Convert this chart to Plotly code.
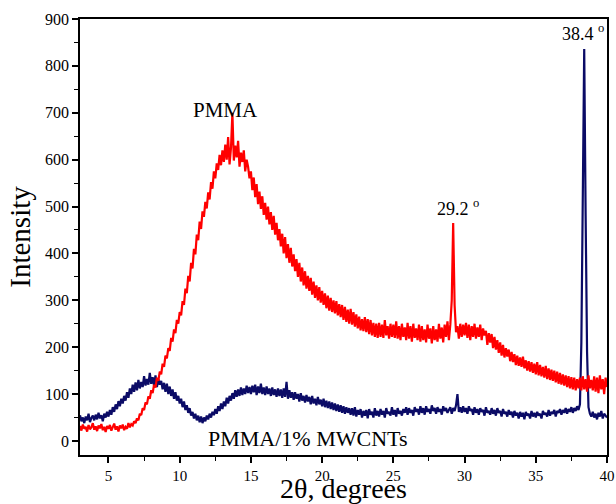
import numpy as np
import plotly.graph_objects as go

# 2-theta sampling grid: 3.0 .. 40.0 degrees, 0.1 degree step
X_START = 3.0
X_STEP = 0.1

pmma = [
    32, 22, 35, 26, 30, 20, 34, 25, 29, 38,          # 3.x
    24, 31, 21, 33, 27, 36, 23, 30, 19, 32,          # 4.x
    26, 34, 22, 29, 37, 24, 31, 20, 33, 27,          # 5.x
    35, 23, 30, 26, 38, 29, 36, 33, 42, 38,          # 6.x
    48, 44, 58, 55, 70, 66, 82, 78, 95, 90,          # 7.x
    108, 102, 120, 114, 135, 128, 148, 142, 165, 158,  # 8.x
    182, 176, 198, 192, 220, 212, 238, 230, 258, 250,  # 9.x
    275, 268, 298, 290, 325, 315, 352, 340, 380, 368,  # 10.x
    410, 398, 440, 428, 468, 452, 490, 478, 510, 496,  # 11.x
    530, 515, 552, 538, 575, 560, 592, 578, 610, 588,  # 12.x
    620, 595, 632, 600, 648, 590, 625, 700, 598, 630,  # 13.x
    605, 640, 585, 615, 595, 620, 575, 600, 585, 560,  # 14.x
    575, 535, 562, 520, 548, 505, 532, 495, 522, 482,  # 15.x
    508, 472, 500, 462, 488, 450, 480, 440, 465, 428,  # 16.x
    452, 415, 442, 400, 435, 390, 420, 380, 412, 372,  # 17.x
    398, 362, 388, 350, 380, 340, 370, 332, 362, 325,  # 18.x
    352, 320, 348, 312, 340, 305, 332, 300, 328, 295,  # 19.x
    320, 290, 315, 283, 310, 278, 305, 275, 300, 272,  # 20.x
    298, 268, 292, 264, 290, 258, 286, 254, 280, 250,  # 21.x
    282, 248, 275, 244, 270, 240, 265, 236, 260, 234,  # 22.x
    264, 232, 260, 228, 258, 225, 252, 222, 250, 220,  # 23.x
    252, 222, 248, 220, 258, 225, 245, 218, 250, 222,  # 24.x
    248, 220, 255, 218, 245, 215, 250, 222, 242, 215,  # 25.x
    252, 218, 245, 212, 250, 220, 240, 215, 248, 212,  # 26.x
    245, 215, 238, 210, 248, 218, 240, 208, 245, 215,  # 27.x
    238, 212, 250, 218, 242, 210, 248, 222, 255, 215,  # 28.x
    248, 300, 465, 290, 232, 245, 218, 250, 222, 248,  # 29.x
    225, 252, 220, 248, 215, 245, 222, 250, 218, 242,  # 30.x
    222, 248, 215, 240, 225, 235, 205, 230, 210, 228,  # 31.x
    198, 222, 195, 215, 188, 210, 182, 205, 178, 198,  # 32.x
    180, 195, 170, 190, 168, 185, 162, 182, 160, 178,  # 33.x
    158, 180, 155, 172, 150, 170, 148, 168, 145, 165,  # 34.x
    142, 168, 140, 162, 138, 158, 135, 160, 132, 155,  # 35.x
    130, 152, 128, 150, 125, 148, 122, 145, 120, 142,  # 36.x
    118, 140, 115, 138, 112, 136, 110, 135, 108, 132,  # 37.x
    112, 135, 108, 138, 110, 132, 105, 140, 112, 130,  # 38.x
    108, 138, 105, 135, 102, 140, 110, 132, 100, 135,  # 39.x
    115,                                             # 40.0
]

pmma_mwcnt = [
    55, 42, 50, 38, 52, 44, 58, 40, 49, 54,          # 3.x
    44, 56, 46, 60, 48, 55, 42, 58, 50, 62,          # 4.x
    52, 66, 56, 72, 62, 78, 68, 85, 74, 90,          # 5.x
    80, 96, 86, 104, 92, 112, 100, 120, 105, 125,    # 6.x
    108, 130, 112, 126, 115, 138, 118, 132, 120, 145,  # 7.x
    122, 136, 118, 140, 115, 132, 120, 128, 110, 124,  # 8.x
    105, 122, 100, 116, 96, 110, 90, 104, 86, 96,    # 9.x
    80, 90, 72, 84, 66, 76, 60, 70, 54, 62,          # 10.x
    48, 58, 44, 54, 40, 52, 38, 50, 42, 54,          # 11.x
    46, 58, 50, 62, 55, 68, 58, 74, 64, 80,          # 12.x
    68, 84, 74, 92, 80, 96, 86, 102, 90, 108,        # 13.x
    94, 110, 96, 114, 98, 112, 100, 118, 102, 115,   # 14.x
    100, 118, 104, 120, 98, 116, 102, 122, 100, 114,  # 15.x
    98, 116, 100, 112, 96, 114, 98, 110, 94, 112,    # 16.x
    96, 110, 92, 112, 94, 126, 90, 108, 92, 104,     # 17.x
    88, 104, 90, 100, 84, 102, 86, 96, 82, 98,       # 18.x
    84, 94, 78, 96, 80, 90, 76, 94, 78, 88,          # 19.x
    74, 90, 72, 86, 70, 84, 68, 82, 66, 80,          # 20.x
    64, 78, 62, 76, 60, 74, 58, 72, 60, 70,          # 21.x
    56, 70, 54, 72, 52, 66, 56, 68, 50, 64,          # 22.x
    54, 66, 48, 68, 56, 62, 50, 70, 54, 64,          # 23.x
    52, 68, 56, 64, 50, 70, 58, 62, 54, 72,          # 24.x
    56, 66, 52, 70, 58, 64, 54, 68, 60, 72,          # 25.x
    56, 70, 60, 66, 54, 72, 62, 68, 56, 74,          # 26.x
    60, 70, 56, 74, 62, 68, 58, 76, 64, 70,          # 27.x
    58, 72, 62, 68, 56, 74, 64, 70, 60, 66,          # 28.x
    72, 58, 70, 64, 76, 100, 62, 72, 60, 74,         # 29.x
    62, 70, 58, 74, 64, 68, 56, 72, 60, 68,          # 30.x
    56, 70, 62, 66, 54, 72, 60, 64, 56, 70,          # 31.x
    58, 66, 54, 70, 60, 64, 52, 68, 58, 62,          # 32.x
    52, 66, 56, 62, 50, 64, 54, 60, 48, 62,          # 33.x
    52, 60, 46, 62, 54, 58, 48, 64, 52, 60,          # 34.x
    50, 62, 54, 58, 48, 64, 56, 60, 52, 66,          # 35.x
    54, 62, 58, 66, 52, 64, 60, 68, 56, 66,          # 36.x
    60, 70, 58, 68, 62, 72, 60, 70, 64, 74,          # 37.x
    66, 78, 210, 520, 836, 480, 190, 72, 58, 52,     # 38.x
    62, 50, 58, 46, 60, 52, 64, 48, 58, 54,          # 39.x
    50,                                              # 40.0
]

x = np.round(X_START + X_STEP * np.arange(len(pmma)), 2)

FONT = "Liberation Serif"

fig = go.Figure()
fig.add_trace(go.Scatter(x=x, y=pmma_mwcnt, mode="lines",
                         line=dict(color="#0b0b66", width=2.2),
                         name="PMMA/1% MWCNTs", showlegend=False))
fig.add_trace(go.Scatter(x=x, y=pmma, mode="lines",
                         line=dict(color="#ff0000", width=2.2),
                         name="PMMA", showlegend=False))

annotations = [
    dict(x=13.25, y=706, text="PMMA", size=21),
    dict(x=29.55, y=497, text="29.2 <sup>o</sup>", size=18),
    dict(x=38.3, y=872, text="38.4 <sup>o</sup>", size=18),
    dict(x=19.0, y=6, text="PMMA/1% MWCNTs", size=22),
]
for a in annotations:
    fig.add_annotation(x=a["x"], y=a["y"], text=a["text"], showarrow=False,
                       font=dict(family=FONT, size=a["size"], color="black"),
                       xanchor="center", yanchor="middle")

fig.update_layout(
    width=616, height=504,
    margin=dict(l=80, r=9, t=19, b=49, autoexpand=False),
    paper_bgcolor="white", plot_bgcolor="white",
    font=dict(family=FONT, color="black", size=16),
    showlegend=False,
)
fig.update_xaxes(
    range=[3, 40], tick0=0, dtick=5, automargin=False,
    showgrid=False, zeroline=False,
    showline=True, linecolor="black", linewidth=1.5, mirror=True,
    ticks="outside", ticklen=6, tickwidth=1.5, tickcolor="black",
    minor=dict(dtick=2.5, tick0=0, ticks="outside", ticklen=4, tickwidth=1.2, tickcolor="black"),
    tickfont=dict(family=FONT, size=15, color="black"),
    title=dict(text="2θ, degrees", font=dict(family=FONT, size=28, color="black"), standoff=3),
)
fig.update_yaxes(
    range=[-30, 900], tick0=0, dtick=100, automargin=False,
    showgrid=False, zeroline=False,
    showline=True, linecolor="black", linewidth=1.5, mirror=True,
    ticks="outside", ticklen=6, tickwidth=1.5, tickcolor="black",
    minor=dict(dtick=50, tick0=0, ticks="outside", ticklen=4, tickwidth=1.2, tickcolor="black"),
    tickfont=dict(family=FONT, size=16, color="black"),
    title=dict(text="Intensity", font=dict(family=FONT, size=29, color="black"), standoff=6),
)

fig.write_html(
    "out.html",
    config={"displayModeBar": False},
    post_script="document.body.style.margin='0px';document.body.style.overflow='hidden';",
)
